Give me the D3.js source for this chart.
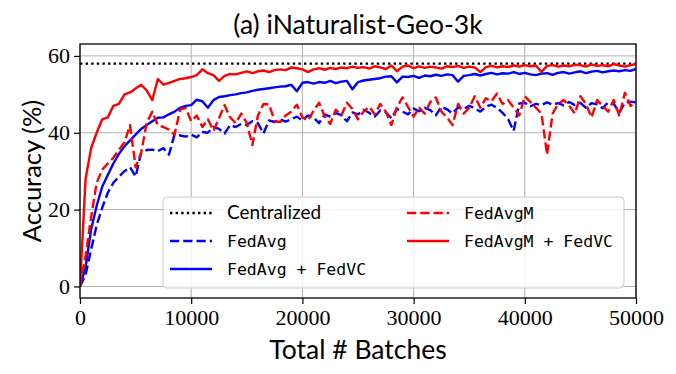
<!doctype html>
<html>
<head>
<meta charset="utf-8">
<script src="https://cdn.jsdelivr.net/npm/d3@7"></script>
<style>
  body { margin: 0; background: #fff; }
  svg { display: block; }
</style>
</head>
<body>
<svg id="chart"></svg>
<script>
// batches sampled every 500
const batches = d3.range(0, 50001, 500);

const centralized = 58;

const fedAvg = [0, 3, 9.6, 16, 20.5, 24.4, 27, 28.6, 30, 31, 28.6, 34.8, 35.5, 35.6, 35.2, 36, 34.3, 39.5, 39.3, 39.0,
  39.5, 38.8, 40.2, 40, 41.5, 41, 39.8, 42, 41.5, 42.3, 42, 43, 42.5, 39.8, 43.2, 42.8, 43.5, 42.9, 43.5, 44.2,
  43.2, 44.5, 44, 42.5, 44.8, 44.2, 45.1, 44.6, 43, 45.3, 44.8, 46, 45.2, 44.2, 45.8, 45.3, 43.8, 46.2, 45.5, 44.8,
  46.3, 45.6, 46.5, 45.9, 44.5, 46.8, 46.1, 45, 46.6, 46.2, 47.0, 46.4, 45.5, 46.8, 47.3, 46.5, 45.2, 43.5, 40.5, 47.6,
  47.8, 46.9, 47.5, 47.2, 47.9, 47.3, 47.7, 47.1, 48, 47.2, 47.8, 46.5, 47.7, 47.4, 46.4, 47.9, 47.5, 45.2, 47.8, 48.1,
  47.9];

const fedAvgVC = [0, 5, 14.8, 21, 26, 29, 32, 34.5, 36.5, 38, 39.5, 41, 42, 43, 43.9, 44, 44.8, 45.5, 46.5, 47,
  47.2, 48.6, 48.2, 46.5, 48.5, 49.3, 49.5, 49.8, 50, 50.3, 50.5, 50.9, 51.2, 51.4, 51.6, 51.8, 52, 52.1, 52.5, 50.8,
  53, 53.2, 52.8, 53.2, 53.0, 53.5, 52.9, 53.3, 53.5, 51.3, 53.2, 53.6, 53.8, 54, 54.2, 54.6, 54.7, 53.1, 54.6, 54.5,
  54.8, 54.3, 54.9, 54.7, 55.1, 54.8, 55.2, 55.0, 53.3, 54.8, 55.0, 55.3, 54.9, 55.3, 55.6, 55.2, 55.5, 55.4, 55.8, 55.3,
  55.6, 55.2, 55.0, 55.4, 55.5, 55.1, 55.6, 55.8, 55.4, 55.7, 56.0, 55.5, 55.9, 56.1, 55.7, 56.0, 56.2, 56.0, 56.3, 56.1,
  56.6];

const fedAvgM = [0, 8, 18, 27, 30.4, 32, 33.5, 35.6, 37.5, 42, 31, 34.8, 42.6, 45.5, 42, 41.5, 40.8, 39.5, 46, 46.5,
  43, 44.5, 41.5, 43.5, 40.5, 43.8, 47.2, 44, 42.5, 45, 42.5, 36.8, 44.5, 47.5, 47.4, 43, 42.8, 44.5, 45.5, 47.3,
  44, 43.2, 45.7, 47.8, 44.3, 42.3, 46, 44.5, 47.8, 46.2, 43.5, 45.5, 46.8, 44.8, 47.5, 45.5, 42, 46.6, 49.2, 46.7,
  44.2, 46.5, 45, 48, 49.2, 45.5, 44, 42, 47.5, 45, 46.5, 49.5, 46.5, 49, 48.2, 50.2, 47.5, 48.5, 46.5, 44.5,
  49.5, 48, 46.5, 45, 34.3, 45, 47.5, 48.5, 47, 45, 49.5, 47.5, 44, 48.5, 47, 45.5, 48.5, 44.5, 50.4, 47,
  47.8];

const fedAvgMVC = [0, 28, 36, 40, 43.5, 44, 47, 47.5, 50, 50.5, 51.5, 52.5, 51, 48.5, 54, 52.5, 53, 53.5, 54, 54.2,
  54.5, 55, 56.5, 55.5, 55, 53.5, 54.8, 55.3, 55.2, 55.6, 56, 55.5, 56, 56.2, 55.8, 56.3, 56.5, 56.3, 57, 56.8,
  56.5, 55.8, 56.5, 56.8, 56.4, 56.9, 56.6, 57, 56.8, 57.2, 56.9, 57.1, 56.7, 57.3, 57, 56.6, 57.5, 56, 57.2, 57.5,
  56.8, 57.3, 56.9, 57.2, 57.0, 56.7, 57.3, 57.1, 57.4, 56.9, 57.2, 57.0, 55.8, 57.1, 57.4, 57.0, 57.3, 57.1, 57.5, 57.2,
  57.6, 57.3, 57.5, 55.8, 57.4, 57.6, 57.2, 57.5, 57.3, 57.7, 57.6, 57.2, 57.8, 57.4, 57.6, 57.3, 57.9, 57.5, 57.2, 57.6,
  57.9];

const xTicks = [0, 10000, 20000, 30000, 40000, 50000];
const yTicks = [0, 20, 40, 60];

const series = [
  {name: "FedAvg", values: fedAvg, color: "#0000ff", dash: "9.25,4", mono: true},
  {name: "FedAvg + FedVC", values: fedAvgVC, color: "#0000ff", dash: null, mono: true},
  {name: "FedAvgM", values: fedAvgM, color: "#ff0000", dash: "9.25,4", mono: true},
  {name: "FedAvgM + FedVC", values: fedAvgMVC, color: "#ff0000", dash: null, mono: true}
];

const W = 676, H = 374;
const margin = {top: 44, right: 40, bottom: 76, left: 80};
const iw = W - margin.left - margin.right, ih = H - margin.top - margin.bottom;

const svg = d3.select("#chart").attr("width", W).attr("height", H);

const x = d3.scaleLinear().domain([0, 50000]).range([0, iw]);
const y = d3.scaleLinear().domain([-3, 63.1]).range([ih, 0]);

const g = svg.append("g").attr("transform", `translate(${margin.left},${margin.top})`);

svg.append("defs").append("clipPath").attr("id", "clip")
  .append("rect").attr("width", iw).attr("height", ih);

// grid
g.append("g").selectAll("line").data(xTicks).join("line")
  .attr("x1", d => x(d)).attr("x2", d => x(d)).attr("y1", 0).attr("y2", ih)
  .attr("stroke", "#b0b0b0").attr("stroke-width", 1);
g.append("g").selectAll("line").data(yTicks).join("line")
  .attr("y1", d => y(d)).attr("y2", d => y(d)).attr("x1", 0).attr("x2", iw)
  .attr("stroke", "#b0b0b0").attr("stroke-width", 1);

// lines
const line = d3.line().x((d, i) => x(batches[i])).y(d => y(d));
const plot = g.append("g").attr("clip-path", "url(#clip)");

plot.append("line")
  .attr("x1", x(0)).attr("x2", x(50000)).attr("y1", y(centralized)).attr("y2", y(centralized))
  .attr("stroke", "#000").attr("stroke-width", 2.4).attr("stroke-dasharray", "2.4,3.2");

series.forEach(s => {
  plot.append("path").datum(s.values)
    .attr("fill", "none").attr("stroke", s.color).attr("stroke-width", 2.4)
    .attr("stroke-dasharray", s.dash).attr("stroke-linejoin", "round")
    .attr("d", line);
});

// axes
const serif = "'Liberation Serif', serif";
const xAxis = g.append("g").attr("transform", `translate(0,${ih})`)
  .call(d3.axisBottom(x).tickValues(xTicks).tickFormat(d3.format("d")).tickSizeOuter(0).tickSize(6).tickPadding(5));
const yAxis = g.append("g")
  .call(d3.axisLeft(y).tickValues(yTicks).tickSizeOuter(0).tickSize(6).tickPadding(4));
[xAxis, yAxis].forEach(a => {
  a.attr("font-family", serif).attr("font-size", 22);
  a.select(".domain").remove();
  a.selectAll("line").attr("stroke", "#000").attr("stroke-width", 1.2);
  a.selectAll("text").style("font-family", serif).attr("fill", "#000");
});

g.append("rect").attr("width", iw).attr("height", ih)
  .attr("fill", "none").attr("stroke", "#000").attr("stroke-width", 1.3);

// labels
const sans = "Lato, 'DejaVu Sans', sans-serif";
svg.append("text").attr("x", margin.left + iw / 2).attr("y", 34)
  .attr("text-anchor", "middle").attr("font-family", sans).attr("font-size", 26.5)
  .text("(a) iNaturalist-Geo-3k");
svg.append("text").attr("x", margin.left + iw / 2).attr("y", 359)
  .attr("text-anchor", "middle").attr("font-family", sans).attr("font-size", 26.5)
  .text("Total # Batches");
svg.append("text").attr("transform", `translate(41,${margin.top + ih / 2}) rotate(-90)`)
  .attr("text-anchor", "middle").attr("font-family", sans).attr("font-size", 25.5)
  .text("Accuracy (%)");

// legend
const lg = svg.append("g");
lg.append("rect").attr("x", 163).attr("y", 197).attr("width", 461).attr("height", 91).attr("rx", 4)
  .attr("fill", "#fff").attr("fill-opacity", 0.8).attr("stroke", "#cccccc").attr("stroke-width", 1);

const entries = [
  {name: "Centralized", color: "#000", dash: "2.4,3.2", mono: false},
  series[0], series[1], series[2], series[3]
];
entries.forEach((e, i) => {
  const col = i < 3 ? 0 : 1, row = i < 3 ? i : i - 3;
  const lx = col === 0 ? 170 : 407, ly = 213 + row * 28;
  lg.append("line").attr("x1", lx).attr("x2", lx + 42).attr("y1", ly).attr("y2", ly)
    .attr("stroke", e.color).attr("stroke-width", 2.4).attr("stroke-dasharray", e.dash);
  lg.append("text").attr("x", lx + 57).attr("y", ly + 6)
    .attr("font-family", e.mono ? "'DejaVu Sans Mono', monospace" : sans)
    .attr("font-size", e.mono ? 16.5 : 19)
    .text(e.name);
});
</script>
</body>
</html>
